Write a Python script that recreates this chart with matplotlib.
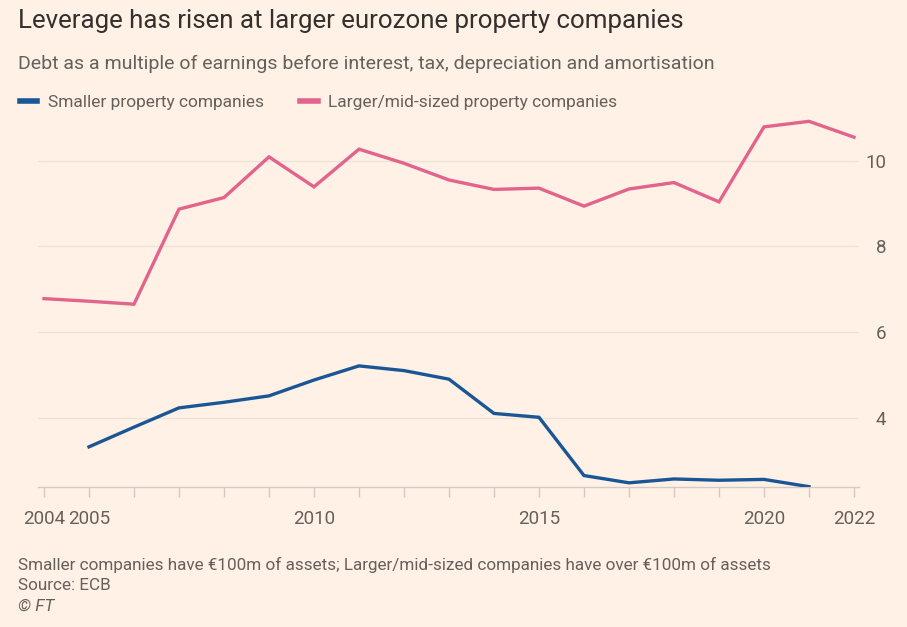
import matplotlib
matplotlib.use("Agg")
import matplotlib.pyplot as plt
from matplotlib.ticker import FixedLocator, MultipleLocator

plt.rcParams['font.family'] = ['Roboto', 'DejaVu Sans']

years_small = [2005, 2006, 2007, 2008, 2009, 2010, 2011, 2012, 2013, 2014,
               2015, 2016, 2017, 2018, 2019, 2020, 2021]
smaller = [3.32, 3.78, 4.23, 4.36, 4.51, 4.88, 5.21, 5.10, 4.90, 4.10,
           4.01, 2.65, 2.48, 2.57, 2.54, 2.56, 2.39]

years_large = [2004, 2005, 2006, 2007, 2008, 2009, 2010, 2011, 2012, 2013,
               2014, 2015, 2016, 2017, 2018, 2019, 2020, 2021, 2022]
larger = [6.78, 6.72, 6.65, 8.87, 9.14, 10.09, 9.39, 10.27, 9.94, 9.55,
          9.33, 9.36, 8.94, 9.34, 9.49, 9.04, 10.79, 10.92, 10.55]

x_ticks = [2004, 2005, 2010, 2015, 2020, 2022]
y_ticks = [4, 6, 8, 10]

BG = '#FFF1E5'
BLUE = '#1A5596'
PINK = '#E2638C'
DARK = '#33302E'
GREY = '#66605C'

fig = plt.figure(figsize=(9.07, 6.27), dpi=100, facecolor=BG)
ax = fig.add_axes([0.0419, 0.2238, 0.9051, 0.595], facecolor=BG)

ax.plot(years_small, smaller, color=BLUE, lw=2.4, label='Smaller property companies',
        solid_joinstyle='miter', zorder=3)
ax.plot(years_large, larger, color=PINK, lw=2.4, label='Larger/mid-sized property companies',
        solid_joinstyle='miter', zorder=3)

ax.set_xlim(2003.867, 2022.11)
ax.set_ylim(2.39, 11.1)

for s in ['top', 'left', 'right']:
    ax.spines[s].set_visible(False)
ax.spines['bottom'].set_color('#D4CAC1')
ax.spines['bottom'].set_linewidth(1.0)

ax.xaxis.set_major_locator(FixedLocator(x_ticks))
ax.xaxis.set_minor_locator(MultipleLocator(1))
ax.set_xticklabels([str(t) for t in x_ticks])
ax.tick_params(axis='x', which='both', length=7, width=1, color='#D4CAC1',
               labelsize=13.5, labelcolor=GREY, pad=10)

ax.yaxis.tick_right()
ax.set_yticks(y_ticks)
ax.set_yticklabels([str(t) for t in y_ticks])
ax.tick_params(axis='y', length=0, labelsize=13.5, labelcolor=GREY, pad=19.5)
for lab in ax.get_yticklabels():
    lab.set_horizontalalignment('right')
ax.grid(axis='y', color='#EEE2D7', lw=1.0)
ax.set_axisbelow(True)

fig.text(18/907, 1 - 21/627, 'Leverage has risen at larger eurozone property companies',
         fontsize=18.6, color=DARK, va='center', ha='left')
fig.text(18/907, 1 - 64/627, 'Debt as a multiple of earnings before interest, tax, depreciation and amortisation',
         fontsize=14, color=GREY, va='center', ha='left')

fig.legend(loc='center left', bbox_to_anchor=(13/907, 1 - 102/627), ncol=2, frameon=False,
           fontsize=12.5, labelcolor=GREY, handlelength=1.0, handletextpad=0.6,
           columnspacing=2.1, borderaxespad=0)
for l in fig.legends[0].get_lines():
    l.set_linewidth(4)

fig.text(18/907, 1 - 565/627,
         'Smaller companies have \u20ac100m of assets; Larger/mid-sized companies have over \u20ac100m of assets',
         fontsize=12.3, color=GREY, va='center', ha='left')
fig.text(18/907, 1 - 586/627, 'Source: ECB', fontsize=12.3, color=GREY, va='center', ha='left')
fig.text(18/907, 1 - 606/627, '\u00a9 FT', fontsize=12.3, color=GREY, va='center', ha='left',
         style='italic')

fig.savefig('out.png', dpi=100, facecolor=BG)
